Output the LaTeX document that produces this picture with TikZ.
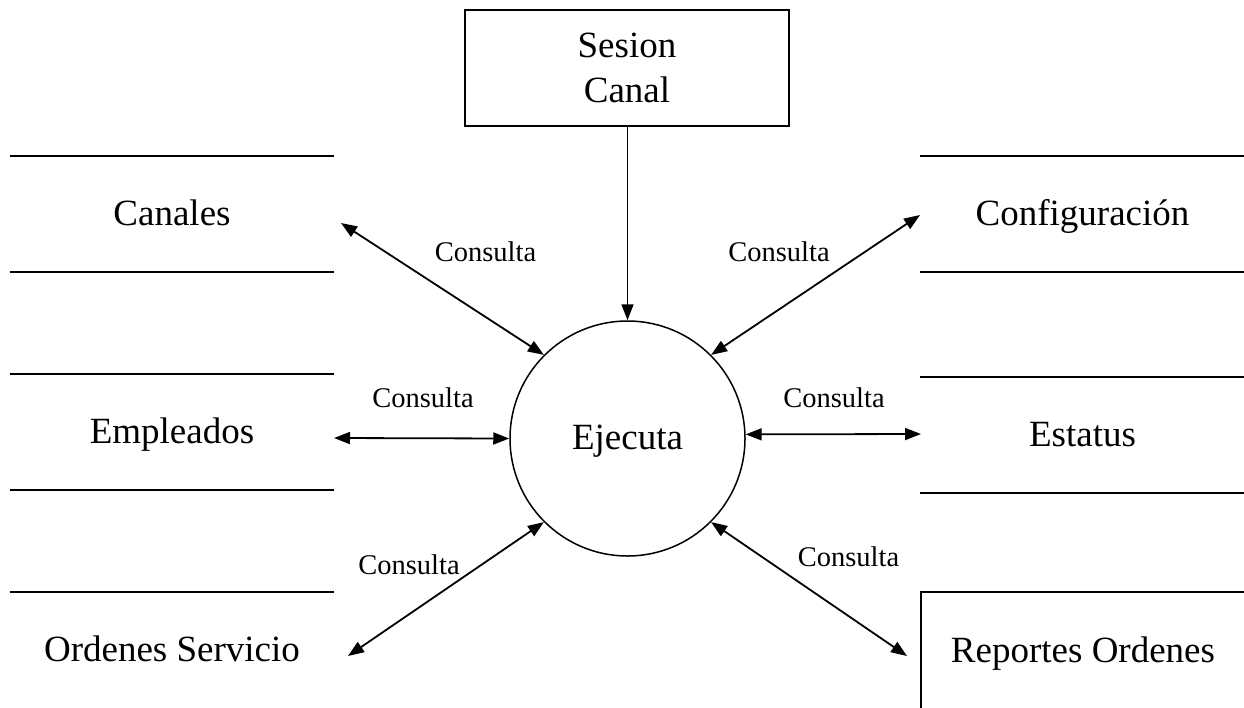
\documentclass[tikz,border=0pt]{standalone}
\usepackage{fontspec}
\setmainfont{Liberation Serif}
\usetikzlibrary{arrows.meta}
\tikzset{
  big/.style={font=\fontsize{37}{45}\selectfont, inner sep=0pt},
  label/.style={big, text height=30pt, text depth=8pt},
  small/.style={font=\fontsize{28.5}{31}\selectfont, inner sep=0pt},
  store/.style={label, minimum width=324pt, minimum height=116pt},
  storeline/.style={line width=2pt},
  flow/.style={line width=1.8pt, {Triangle[length=16pt,width=12pt]}-{Triangle[length=16pt,width=12pt]}},
  inflow/.style={line width=1.6pt, -{Triangle[length=16pt,width=12pt]}},
}
\begin{document}
\begin{tikzpicture}[x=1pt,y=-1pt]
\useasboundingbox (0,0) rectangle (1244,707);
\clip (0,0) rectangle (1244,707);
% process
\node (ej) [draw, line width=1.5pt, circle, minimum size=235pt, inner sep=0pt, label] at (627.5,438.5) {Ejecuta};
% external entity
\node (sc) [draw, line width=1.5pt, minimum width=324pt, minimum height=116pt] at (627,68) {};
\node (sctext) [big, align=center] at (sc.center) {Sesion\\Canal};
% data stores
\node (can) [store] at (172,214) {Canales};
\node (emp) [store] at (172,432) {Empleados};
\node (ord) [store] at (172,650) {Ordenes Servicio};
\node (cfg) [store] at (1082.5,214) {Configuración};
\node (est) [store] at (1082.5,435) {Estatus};
\node (rep) [draw, line width=1.5pt, minimum width=326pt, minimum height=120pt] at (1084,652) {};
\node (reptext) [label] at (1083,651) {Reportes Ordenes};
\foreach \s in {can,emp,cfg,est}{
  \draw[storeline] (\s.north west) -- (\s.north east) (\s.south west) -- (\s.south east);
}
\draw[storeline] (ord.north west) -- (ord.north east);
% free ends of connectors
\coordinate (canE) at (341,223);
\coordinate (empE) at (334,438);
\coordinate (ordE) at (348,656);
\coordinate (cfgE) at (920,215);
\coordinate (estE) at (921,434);
\coordinate (repE) at (907,656);
% connectors
\draw[inflow] (sc.south -| ej.north) -- (ej.north);
\draw[flow] (canE) -- (ej.135);
\draw[flow] (empE) -- (ej.west);
\draw[flow] (ordE) -- (ej.225);
\draw[flow] (cfgE) -- (ej.45);
\draw[flow] (estE) -- (ej.2);
\draw[flow] (repE) -- (ej.315);
% labels
\node (l1) [small] at (485.5,252) {Consulta};
\node (l2) [small] at (779,252) {Consulta};
\node (l3) [small] at (423,398) {Consulta};
\node (l4) [small] at (834,398) {Consulta};
\node (l5) [small] at (409,565) {Consulta};
\node (l6) [small] at (848.5,557) {Consulta};
\end{tikzpicture}
\end{document}
